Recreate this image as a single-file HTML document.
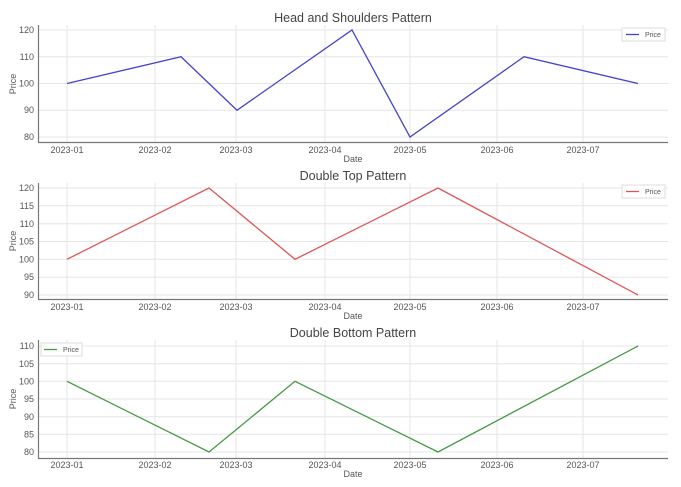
<!DOCTYPE html><html><head><style>body{margin:0;background:#fff}svg{display:block;font-family:"Liberation Sans",sans-serif}</style></head><body>
<svg width="681" height="487" viewBox="0 0 681 487">
<rect width="681" height="487" fill="#fff"/>
<g stroke="#e6e6e6" stroke-width="1">
<!-- vertical grids -->
<path d="M67 25V142M155 25V142M236 25V142M325 25V142M410 25V142M497 25V142M583 25V142"/>
<path d="M67 183V299M155 183V299M236 183V299M325 183V299M410 183V299M497 183V299M583 183V299"/>
<path d="M67 340V458M155 340V458M236 340V458M325 340V458M410 340V458M497 340V458M583 340V458"/>
<path d="M38 30H668M38 56.75H668M38 83.5H668M38 110.25H668M38 137H668"/>
<path d="M38 188H668M38 205.8H668M38 223.7H668M38 241.5H668M38 259.3H668M38 277.2H668M38 295H668"/>
<path d="M38 346H668M38 363.7H668M38 381.3H668M38 399H668M38 416.7H668M38 434.3H668M38 452H668"/>
</g>
<g stroke="#777" stroke-width="1.2" fill="none">
<path d="M38.5 25V142.5H668"/><path d="M38.5 183V299.5H668"/><path d="M38.5 340V458.5H668"/>
</g>
<g font-size="9" fill="#555" text-anchor="end">
<text x="34" y="33">120</text><text x="34" y="60">110</text><text x="34" y="86.5">100</text><text x="34" y="113">90</text><text x="34" y="140">80</text>
<text x="34" y="191">120</text><text x="34" y="209">115</text><text x="34" y="227">110</text><text x="34" y="244.5">105</text><text x="34" y="262.5">100</text><text x="34" y="280">95</text><text x="34" y="298">90</text>
<text x="34" y="349">110</text><text x="34" y="367">105</text><text x="34" y="384.5">100</text><text x="34" y="402">95</text><text x="34" y="420">90</text><text x="34" y="437.5">85</text><text x="34" y="455">80</text>
</g>
<g font-size="9" fill="#555" text-anchor="middle">
<g id="xt"><text x="67" y="153">2023-01</text><text x="155" y="153">2023-02</text><text x="236" y="153">2023-03</text><text x="325" y="153">2023-04</text><text x="410" y="153">2023-05</text><text x="497" y="153">2023-06</text><text x="583" y="153">2023-07</text></g>
<use href="#xt" y="157"/><use href="#xt" y="315"/>
<text x="353" y="162">Date</text><text x="353" y="319">Date</text><text x="353" y="477">Date</text>
<text transform="translate(16 84) rotate(-90)">Price</text>
<text transform="translate(16 241) rotate(-90)">Price</text>
<text transform="translate(16 399) rotate(-90)">Price</text>
</g>
<g font-size="12.5" fill="#444" text-anchor="middle">
<text x="353" y="22">Head and Shoulders Pattern</text>
<text x="353" y="180">Double Top Pattern</text>
<text x="353" y="337">Double Bottom Pattern</text>
</g>
<g fill="none" stroke-width="1.3">
<polyline stroke="#4444cc" points="67,83.5 181,56.75 237,110.25 352,30 410,137 524,56.75 638,83.5"/>
<polyline stroke="#dd5555" points="67,259.3 209,188 295,259.3 438,188 638,295"/>
<polyline stroke="#449944" points="67,381.3 209,452 295,381.3 438,452 638,346"/>
</g>
<g font-size="7" fill="#555">
<rect x="622" y="28" width="43" height="13" fill="#fff" stroke="#ddd"/><path d="M626 34.5H639" stroke="#4444cc" stroke-width="1.3"/><text x="645" y="37">Price</text>
<rect x="622" y="185" width="43" height="13" fill="#fff" stroke="#ddd"/><path d="M626 191.5H639" stroke="#dd5555" stroke-width="1.3"/><text x="645" y="194">Price</text>
<rect x="41" y="343" width="41" height="13" fill="#fff" stroke="#ddd"/><path d="M44 349.5H57" stroke="#449944" stroke-width="1.3"/><text x="63" y="352">Price</text>
</g>
</svg></body></html>
